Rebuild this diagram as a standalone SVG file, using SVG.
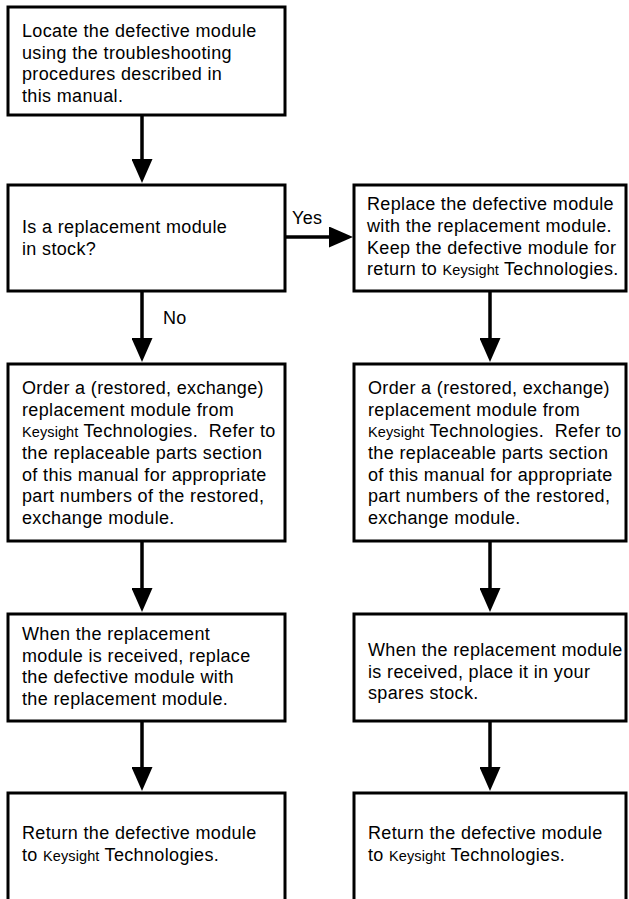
<svg xmlns="http://www.w3.org/2000/svg" width="629" height="899" viewBox="0 0 629 899">
  <defs>
    <marker id="ah" markerUnits="userSpaceOnUse" markerWidth="24" markerHeight="21" refX="12" refY="10.5" orient="auto">
      <path d="M0,0 L24,10.5 L0,21 Z" fill="#000"/>
    </marker>
  </defs>
  <style>
    .box { fill: #fff; stroke: #000; stroke-width: 3; }
    .t { font-family: "Liberation Sans", Arial, sans-serif; font-size: 18px; letter-spacing: 0.35px; fill: #000; }
    .k { font-size: 14.5px; letter-spacing: 0.1px; }
    .c { fill: none; stroke: #000; stroke-width: 3.5; marker-end: url(#ah); }
  </style>
  <rect width="629" height="899" fill="#fff"/>

  <g id="connectors">
    <line class="c" x1="142" y1="115" x2="142" y2="171"/>
    <line class="c" x1="142" y1="291" x2="142" y2="350"/>
    <line class="c" x1="142" y1="541" x2="142" y2="600"/>
    <line class="c" x1="142" y1="721" x2="142" y2="779"/>
    <line class="c" x1="285" y1="237" x2="341" y2="237"/>
    <line class="c" x1="490" y1="291" x2="490" y2="350"/>
    <line class="c" x1="490" y1="541" x2="490" y2="600"/>
    <line class="c" x1="490" y1="721" x2="490" y2="779"/>
    <text class="t" x="292" y="224">Yes</text>
    <text class="t" x="163" y="324">No</text>
  </g>

  <g id="locate">
    <rect class="box" x="8" y="7" width="277" height="108"/>
    <text class="t" x="22" y="37">Locate the defective module</text>
    <text class="t" x="22" y="59">using the troubleshooting</text>
    <text class="t" x="22" y="80">procedures described in</text>
    <text class="t" x="22" y="102">this manual.</text>
  </g>

  <g id="instock">
    <rect class="box" x="8" y="185" width="277" height="106"/>
    <text class="t" x="22" y="233">Is a replacement module</text>
    <text class="t" x="22" y="255">in stock?</text>
  </g>

  <g id="replace">
    <rect class="box" x="354" y="185" width="272" height="106"/>
    <text class="t" x="367" y="210">Replace the defective module</text>
    <text class="t" x="367" y="232">with the replacement module.</text>
    <text class="t" x="367" y="254">Keep the defective module for</text>
    <text class="t" x="367" y="275">return to <tspan class="k">Keysight</tspan> Technologies.</text>
  </g>

  <g id="order-left">
    <rect class="box" x="8" y="364" width="277" height="177"/>
    <text class="t" x="22" y="394">Order a (restored, exchange)</text>
    <text class="t" x="22" y="416">replacement module from</text>
    <text class="t" x="22" y="437"><tspan class="k">Keysight</tspan> Technologies.&#160; Refer to</text>
    <text class="t" x="22" y="459">the replaceable parts section</text>
    <text class="t" x="22" y="481">of this manual for appropriate</text>
    <text class="t" x="22" y="502">part numbers of the restored,</text>
    <text class="t" x="22" y="524">exchange module.</text>
  </g>

  <g id="order-right">
    <rect class="box" x="354" y="364" width="272" height="177"/>
    <text class="t" x="368" y="394">Order a (restored, exchange)</text>
    <text class="t" x="368" y="416">replacement module from</text>
    <text class="t" x="368" y="437"><tspan class="k">Keysight</tspan> Technologies.&#160; Refer to</text>
    <text class="t" x="368" y="459">the replaceable parts section</text>
    <text class="t" x="368" y="481">of this manual for appropriate</text>
    <text class="t" x="368" y="502">part numbers of the restored,</text>
    <text class="t" x="368" y="524">exchange module.</text>
  </g>

  <g id="received-left">
    <rect class="box" x="8" y="614" width="277" height="107"/>
    <text class="t" x="22" y="640">When the replacement</text>
    <text class="t" x="22" y="662">module is received, replace</text>
    <text class="t" x="22" y="683">the defective module with</text>
    <text class="t" x="22" y="705">the replacement module.</text>
  </g>

  <g id="received-right">
    <rect class="box" x="354" y="614" width="272" height="107"/>
    <text class="t" x="368" y="656">When the replacement module</text>
    <text class="t" x="368" y="678">is received, place it in your</text>
    <text class="t" x="368" y="699">spares stock.</text>
  </g>

  <g id="return-left">
    <rect class="box" x="8" y="793" width="277" height="120"/>
    <text class="t" x="22" y="839">Return the defective module</text>
    <text class="t" x="22" y="861">to <tspan class="k">Keysight</tspan> Technologies.</text>
  </g>

  <g id="return-right">
    <rect class="box" x="354" y="793" width="272" height="120"/>
    <text class="t" x="368" y="839">Return the defective module</text>
    <text class="t" x="368" y="861">to <tspan class="k">Keysight</tspan> Technologies.</text>
  </g>
</svg>
